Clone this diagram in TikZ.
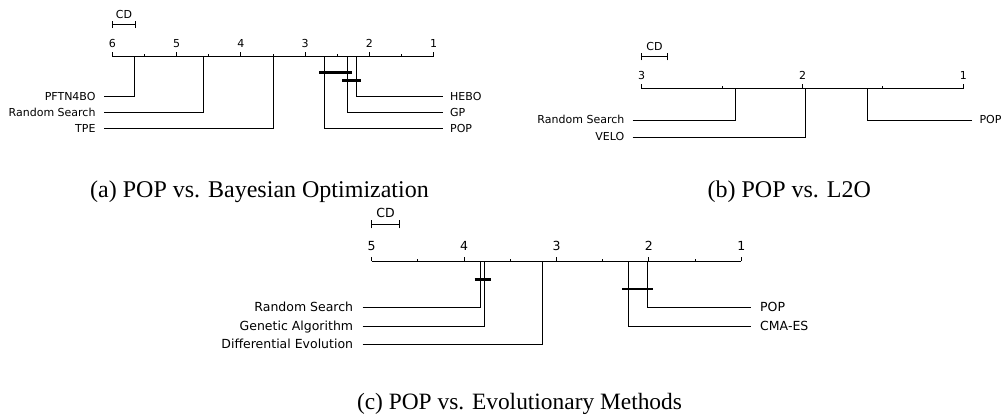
\documentclass[tikz,border=0pt]{standalone}
\usepackage{fontspec}
\newfontfamily\cdfont{DejaVu Sans}
\newfontfamily\capfont{Liberation Serif}
\begin{document}
\begin{tikzpicture}[x=1pt,y=-1pt,
  lbl/.style={inner sep=0pt,font=\cdfont\fontsize{11}{13}\selectfont},
  lblc/.style={inner sep=0pt,font=\cdfont\fontsize{12.5}{15}\selectfont},
  captext/.style={inner sep=0pt,anchor=base,font=\capfont\fontsize{24}{28}\selectfont},
  ln/.style={line width=0.9pt,black},
  clq/.style={line width=2.8pt,black},
  ]
\useasboundingbox (0,0) rectangle (1003,415);

% ================= (a) =================
% CD
\node[lbl,anchor=base] (aCD) at (124,18.3) {CD};
\coordinate (aCD1) at (112.3,24.3); \coordinate (aCD2) at (135.7,24.3);
\draw[ln] (aCD1) -- (aCD2);
\draw[ln] ([yshift=-3.7]aCD1) -- ([yshift=3.7]aCD1);
\draw[ln] ([yshift=-3.7]aCD2) -- ([yshift=3.7]aCD2);
% axis
\coordinate (aL) at (112.3,56); \coordinate (aR) at (433.7,56);
\draw[ln] (aL) -- (aR);
\foreach \r/\x in {6/112.3,5/176.6,4/240.9,3/305.1,2/369.4,1/433.7}{
  \draw[ln] (\x,56) -- (\x,51.7);
  \node[lbl,anchor=base] (at\r) at (\x,47) {\r};
}
\foreach \x in {144.4,208.7,273.0,337.3,401.6}{\draw[ln] (\x,56) -- (\x,53.7);}
% methods
\node[lbl,anchor=base east] (aPFTN) at (95.7,100.1) {PFTN4BO};
\node[lbl,anchor=base east] (aRS) at (95.7,116.1) {Random Search};
\node[lbl,anchor=base east] (aTPE) at (95.7,132.1) {TPE};
\node[lbl,anchor=base west] (aHEBO) at (450,100.1) {HEBO};
\node[lbl,anchor=base west] (aGP) at (450,116.1) {GP};
\node[lbl,anchor=base west] (aPOP) at (450,132.1) {POP};
\coordinate (aPFTNs) at (104,96.7);  \coordinate (aPFTNa) at (134.3,56);
\coordinate (aRSs) at (104,112.7);   \coordinate (aRSa) at (203.3,56);
\coordinate (aTPEs) at (104,128.7);  \coordinate (aTPEa) at (273.3,56);
\coordinate (aHEBOs) at (442.7,96.7); \coordinate (aHEBOa) at (356.3,56);
\coordinate (aGPs) at (442.7,112.7);  \coordinate (aGPa) at (347.7,56);
\coordinate (aPOPs) at (442.7,128.7); \coordinate (aPOPa) at (324.3,56);
\foreach \m in {PFTN,RS,TPE,HEBO,GP,POP}{\draw[ln] (a\m s) -| (a\m a);}
% cliques
\coordinate (aC1l) at (319.3,72.3); \coordinate (aC1r) at (352.3,72.3);
\coordinate (aC2l) at (342.3,80.7); \coordinate (aC2r) at (361,80.7);
\draw[clq] (aC1l) -- (aC1r);
\draw[clq] (aC2l) -- (aC2r);
\node[captext] (capA) at (259.5,197.3) {(a) POP vs. Bayesian Optimization};

% ================= (b) =================
\node[lbl,anchor=base] (bCD) at (654.5,50.7) {CD};
\coordinate (bCD1) at (641.7,56.7); \coordinate (bCD2) at (667.3,56.7);
\draw[ln] (bCD1) -- (bCD2);
\draw[ln] ([yshift=-3.7]bCD1) -- ([yshift=3.7]bCD1);
\draw[ln] ([yshift=-3.7]bCD2) -- ([yshift=3.7]bCD2);
\coordinate (bL) at (641.7,88.7); \coordinate (bR) at (963.3,88.7);
\draw[ln] (bL) -- (bR);
\foreach \r/\x in {3/641.7,2/802.5,1/963.3}{
  \draw[ln] (\x,88.7) -- (\x,84.4);
  \node[lbl,anchor=base] (bt\r) at (\x,79.3) {\r};
}
\foreach \x in {722.1,882.9}{\draw[ln] (\x,88.7) -- (\x,86.4);}
\node[lbl,anchor=base east] (bRS) at (624.5,123.7) {Random Search};
\node[lbl,anchor=base east] (bVELO) at (624.5,140.4) {VELO};
\node[lbl,anchor=base west] (bPOP) at (979.3,123.7) {POP};
\coordinate (bRSs) at (632.7,120.3);  \coordinate (bRSa) at (735.7,88.7);
\coordinate (bVELOs) at (632.7,137); \coordinate (bVELOa) at (805,88.7);
\coordinate (bPOPs) at (972,120.3);   \coordinate (bPOPa) at (867,88.7);
\foreach \m in {RS,VELO,POP}{\draw[ln] (b\m s) -| (b\m a);}
\node[captext] (capB) at (789.3,197.3) {(b) POP vs. L2O};

% ================= (c) =================
\node[lblc,anchor=base] (cCD) at (385.5,217.3) {CD};
\coordinate (cCD1) at (371.7,224.3); \coordinate (cCD2) at (399.3,224.3);
\draw[ln] (cCD1) -- (cCD2);
\draw[ln] ([yshift=-4]cCD1) -- ([yshift=4]cCD1);
\draw[ln] ([yshift=-4]cCD2) -- ([yshift=4]cCD2);
\coordinate (cL) at (371.7,261); \coordinate (cR) at (741.3,261);
\draw[ln] (cL) -- (cR);
\foreach \r/\x in {5/371.7,4/464.1,3/556.5,2/648.9,1/741.3}{
  \draw[ln] (\x,261) -- (\x,256.5);
  \node[lblc,anchor=base] (ct\r) at (\x,250) {\r};
}
\foreach \x in {417.9,510.3,602.7,695.1}{\draw[ln] (\x,261) -- (\x,258.5);}
\node[lblc,anchor=base east] (cRS) at (353.3,311.5) {Random Search};
\node[lblc,anchor=base east] (cGA) at (353.3,330.2) {Genetic Algorithm};
\node[lblc,anchor=base east] (cDE) at (353.3,348.5) {Differential Evolution};
\node[lblc,anchor=base west] (cPOP) at (760,311.5) {POP};
\node[lblc,anchor=base west] (cCMA) at (760,330.2) {CMA-ES};
\coordinate (cRSs) at (362.7,307.3);  \coordinate (cRSa) at (480.7,261);
\coordinate (cGAs) at (362.7,326);    \coordinate (cGAa) at (484.3,261);
\coordinate (cDEs) at (362.7,344.3);  \coordinate (cDEa) at (542,261);
\coordinate (cPOPs) at (750.7,307.3); \coordinate (cPOPa) at (647.7,261);
\coordinate (cCMAs) at (750.7,326);   \coordinate (cCMAa) at (628.3,261);
\foreach \m in {RS,GA,DE,POP,CMA}{\draw[ln] (c\m s) -| (c\m a);}
\coordinate (cC1l) at (474.7,279.7); \coordinate (cC1r) at (490.7,279.7);
\coordinate (cC2l) at (622.3,289);   \coordinate (cC2r) at (653.3,289);
\draw[clq] (cC1l) -- (cC1r);
\draw[clq] (cC2l) -- (cC2r);
\node[captext,font=\capfont\fontsize{23.4}{28}\selectfont] (capC) at (519.5,409.5) {(c) POP vs. Evolutionary Methods};
\end{tikzpicture}
\end{document}
